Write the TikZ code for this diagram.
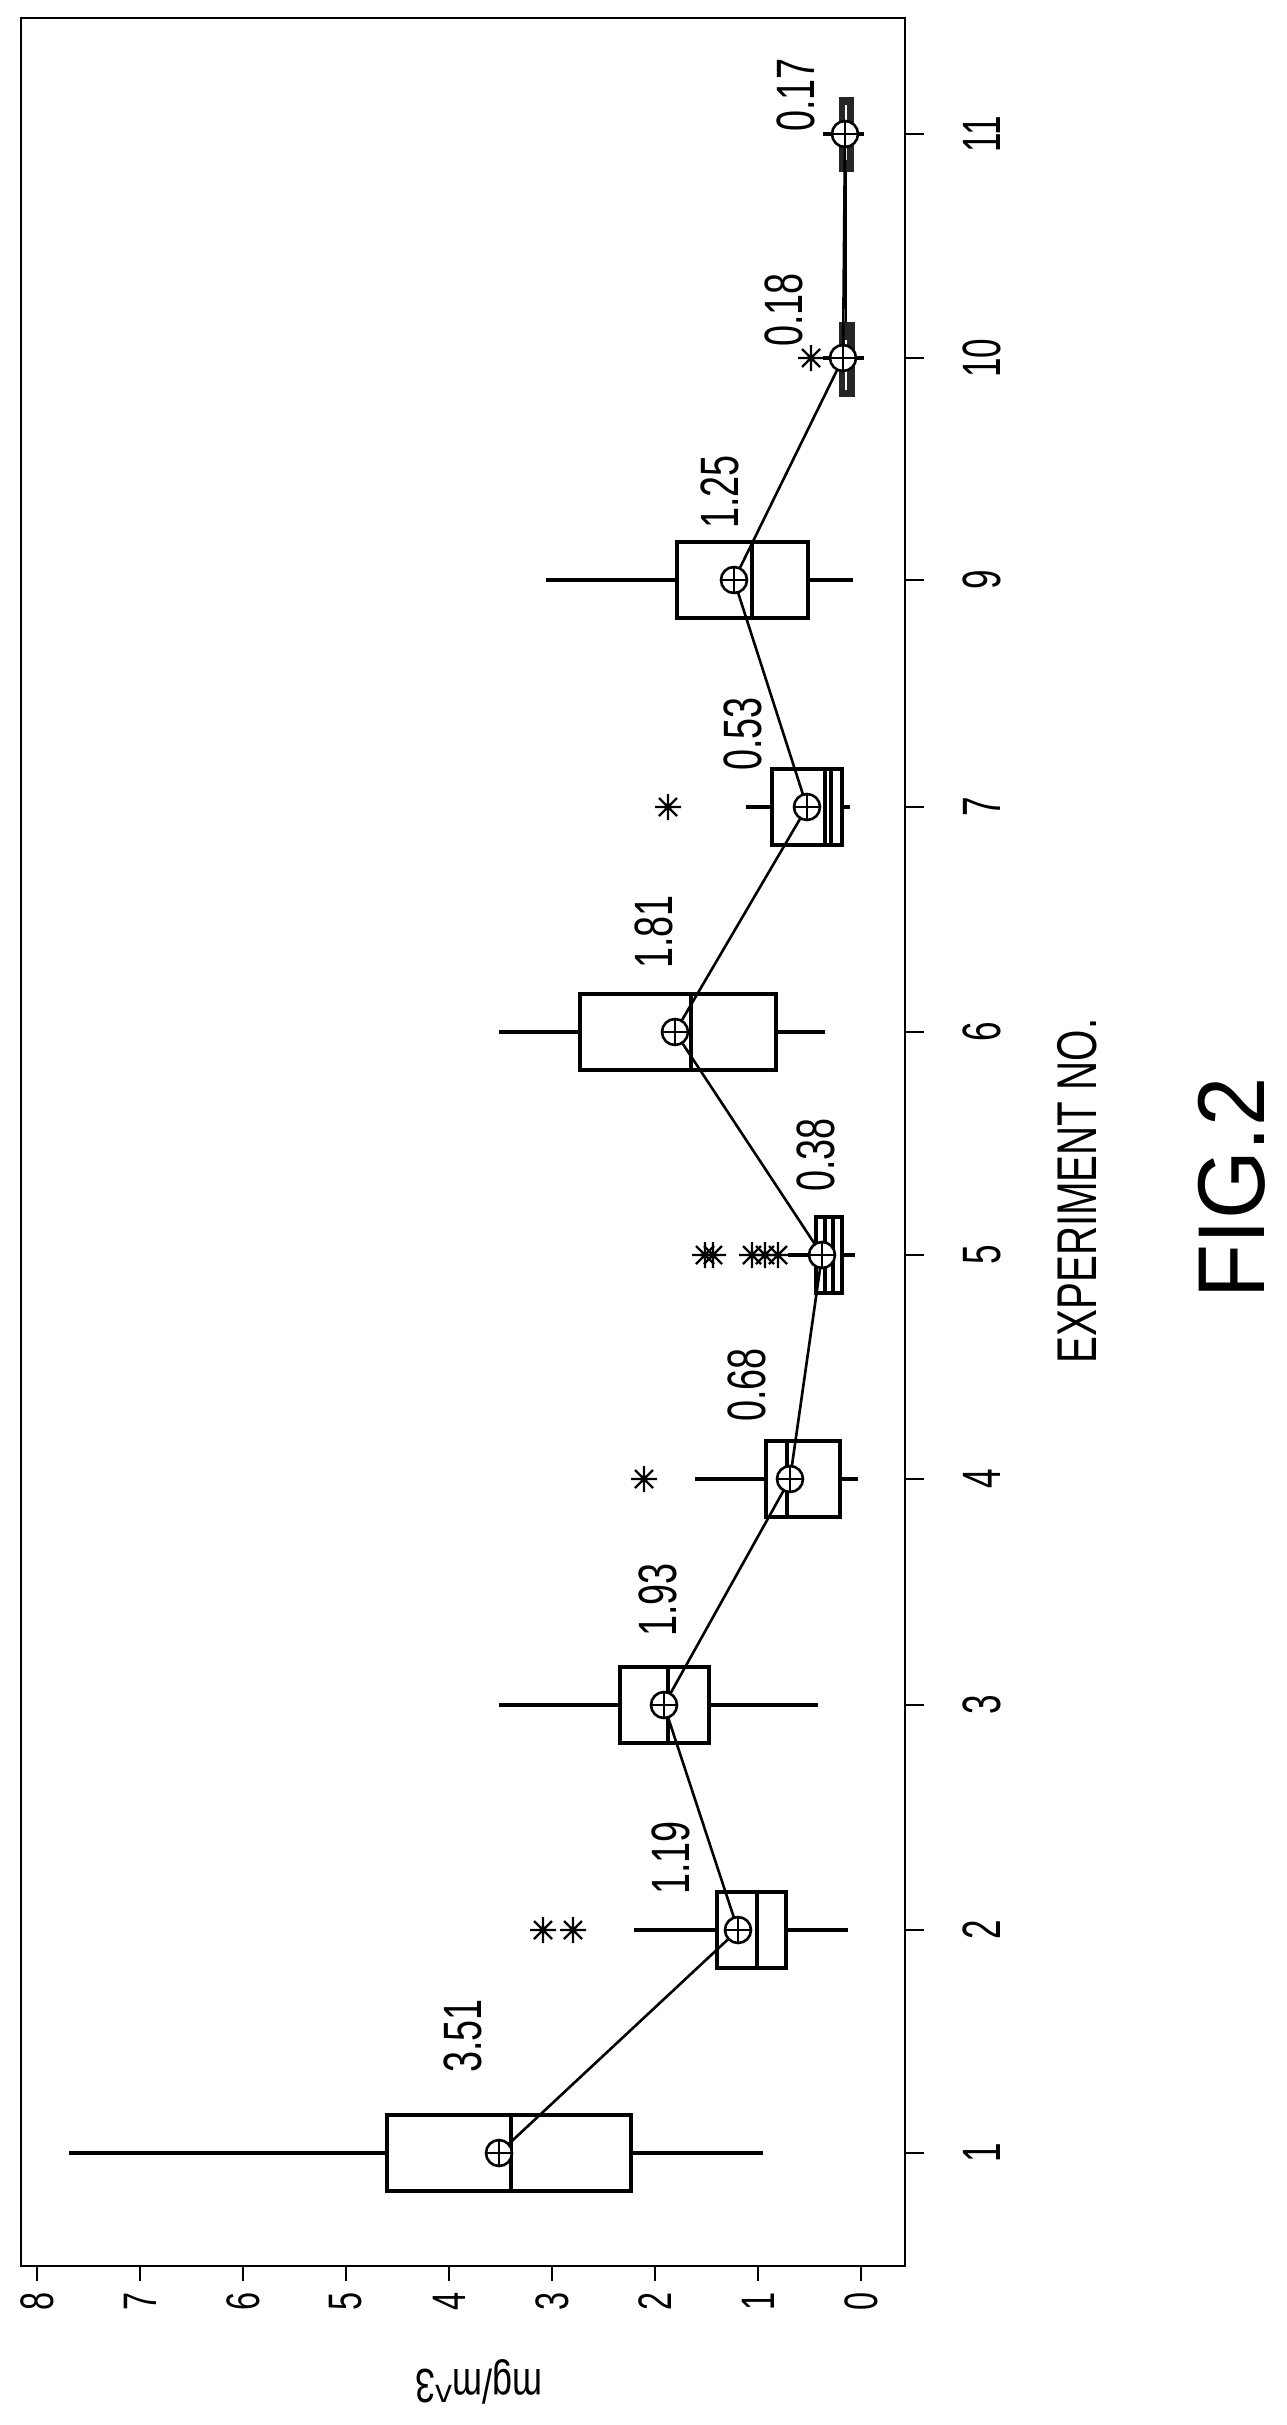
\documentclass[tikz,border=0pt]{standalone}
\usepackage{fontspec}
\setmainfont{Liberation Sans}
\begin{document}
\begin{tikzpicture}[x=1pt,y=-1pt,
  ln/.style={line width=3.2pt},
  frm/.style={line width=2.6pt},
  lab/.style={rotate=90,inner sep=0pt,font=\fontsize{54}{54}\selectfont},
  tlab/.style={rotate=90,inner sep=0pt,font=\fontsize{47}{47}\selectfont},
  meanpt/.style={circle,draw,line width=2.6pt,minimum size=26pt,inner sep=0pt,fill=white,
    path picture={\draw[line width=2pt] (path picture bounding box.north)--(path picture bounding box.south)
      (path picture bounding box.west)--(path picture bounding box.east);}},
]
\useasboundingbox (0,0) rectangle (1287,2425);
\fill[white] (0,0) rectangle (1287,2425);
\newcommand\lbl[3]{\node[lab] (#1) at (#2) {\scalebox{0.7}[1]{#3}};}
\newcommand\astk[2]{\begin{scope}[shift={(#1,#2)}]\draw[line width=2.4pt] (-13,0)--(13,0) (0,-13)--(0,13) (-9,-9)--(9,9) (-9,9)--(9,-9);\end{scope}}
% box: y, wl, q1, med, q3, wr, half
\newcommand\bx[6]{%
  \draw[ln] (#2,#1)--(#3,#1) (#5,#1)--(#6,#1);
  \draw[ln] (#3,#1-38) rectangle (#5,#1+38);
  \draw[ln] (#4,#1-38)--(#4,#1+38);}
% frame
\draw[frm] (21,18) rectangle (905,2266);
% value ticks
\foreach \v in {0,...,8}{
  \draw[frm] (861-103*\v,2266)--(861-103*\v,2281);
  \node[tlab] (v\v) at (861-103*\v,2301) {\scalebox{0.69}[1]{\v}};}
\node[rotate=180,inner sep=0pt,font=\fontsize{48}{48}\selectfont] (ylab) at (479,2382) {\scalebox{0.75}[1]{mg/m\^{}3}};
% experiment ticks
\foreach \y/\t in {2153/1,1930/2,1705/3,1479/4,1255/5,1032/6,807/7,580/9,358/10,134/11}{
  \draw[frm] (906,\y)--(924,\y);
  \node[lab] (e\t) at (982,\y) {\scalebox{0.65}[1]{\t}};}
\node[rotate=90,inner sep=0pt,font=\fontsize{56}{56}\selectfont] (xlab) at (1077,1191) {\scalebox{0.72}[1]{EXPERIMENT NO.}};
\node[rotate=90,inner sep=0pt,font=\fontsize{95}{95}\selectfont] (fig) at (1232,1188) {\scalebox{0.93}[1]{FIG.2}};
% boxes
\bx{2153}{69}{387}{511}{631}{763}
\bx{1930}{634}{717}{757}{786}{848}
\bx{1705}{499}{620}{668}{709}{818}
\bx{1479}{695}{766}{787}{840}{858}
\bx{1255}{788}{816}{825}{842}{855}
\draw[ln] (833,1217)--(833,1293);
\bx{1032}{499}{580}{691}{776}{825}
\bx{807}{746}{772}{825}{842}{850}
\draw[ln] (831,769)--(831,845);
\bx{580}{546}{677}{752}{808}{853}
% boxes 10 and 11 (filled)
\draw[ln] (823,358)--(864,358) (823,134)--(864,134);
\draw[line width=2.5pt] (846,172)--(846,322);
\fill[black!85] (839,322) rectangle (855,397);
\fill[black!85] (839,97) rectangle (854,172);
\draw[white,line width=1.5pt] (846,340)--(846,390) (846,105)--(846,160);
% outliers
\astk{543}{1930}\astk{573}{1930}
\astk{644}{1479}
\astk{705}{1255}\astk{713}{1255}\astk{752}{1255}\astk{765}{1255}\astk{778}{1255}
\astk{668}{807}
\astk{811}{358}
% means
\coordinate (m1) at (499,2153);
\coordinate (m2) at (738,1930);
\coordinate (m3) at (664,1705);
\coordinate (m4) at (790,1479);
\coordinate (m5) at (822,1255);
\coordinate (m6) at (675,1032);
\coordinate (m7) at (807,807);
\coordinate (m9) at (734,580);
\coordinate (m10) at (843,358);
\coordinate (m11) at (845,134);
\draw[line width=2.6pt] (m1)--(m2)--(m3)--(m4)--(m5)--(m6)--(m7)--(m9)--(m10)--(m11);
\foreach \m in {1,2,3,4,5,6,7,9,10,11}{\node[meanpt] (mk\m) at (m\m) {};}
% mean labels
\lbl{l1}{463,2036}{3.51}
\lbl{l2}{671,1858}{1.19}
\lbl{l3}{658,1600}{1.93}
\lbl{l4}{747,1385}{0.68}
\lbl{l5}{816,1155}{0.38}
\lbl{l6}{654,932}{1.81}
\lbl{l7}{743,734}{0.53}
\lbl{l9}{720,492}{1.25}
\lbl{l10}{784,310}{0.18}
\lbl{l11}{796,95}{0.17}
\end{tikzpicture}
\end{document}
